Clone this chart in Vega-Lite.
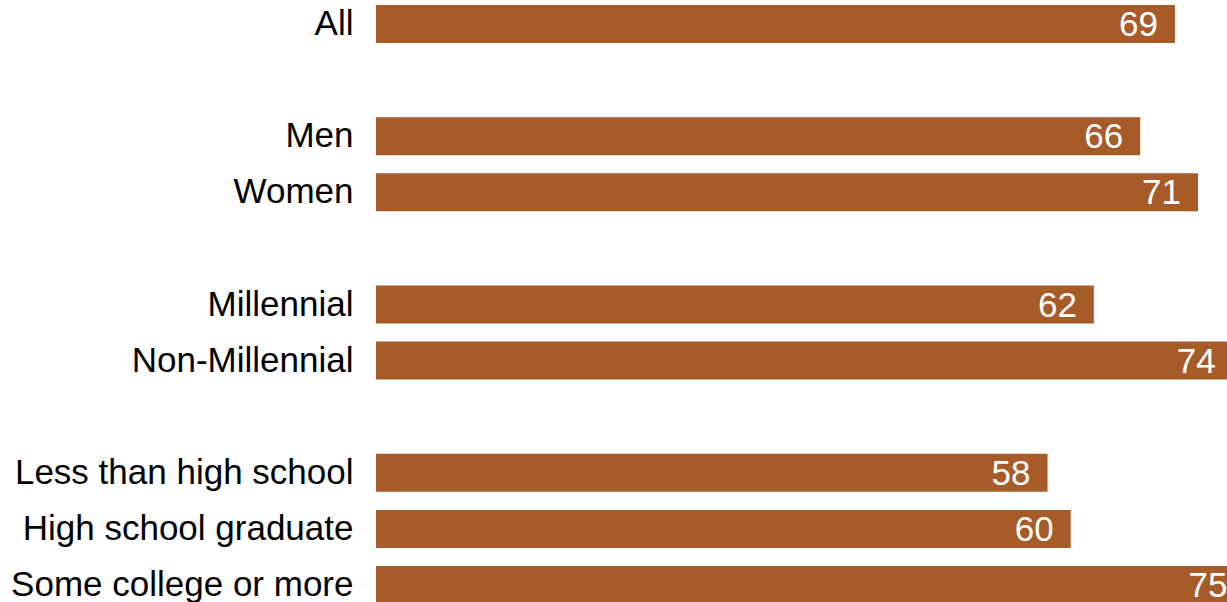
{
  "$schema": "https://vega.github.io/schema/vega-lite/v6.json",
  "autosize": "none",
  "width": 851,
  "height": 602,
  "padding": {"left": 376, "top": 0, "right": 0, "bottom": 0},
  "background": "white",
  "config": {"view": {"stroke": null}},
  "data": {"values": [
    {"group": "All", "value": 69},
    {"group": "Men", "value": 66},
    {"group": "Women", "value": 71},
    {"group": "Millennial", "value": 62},
    {"group": "Non-Millennial", "value": 74},
    {"group": "Less than high school", "value": 58},
    {"group": "High school graduate", "value": 60},
    {"group": "Some college or more", "value": 75}
  ]},
  "encoding": {
    "y": {"field": "group", "type": "nominal", "sort": null,
      "scale": {"domain": ["All", "gap1", "Men", "Women", "gap2", "Millennial", "Non-Millennial", "gap3", "Less than high school", "High school graduate", "Some college or more"],
        "range": [5, 604], "paddingInner": 0.323, "paddingOuter": 0},
      "axis": {"title": null, "ticks": false, "domain": false, "labelPadding": 23, "labelFontSize": 35, "labelFont": "Liberation Sans", "labelColor": "#000000", "labelLimit": 400,
        "labelExpr": "indexof(datum.value, 'gap') === 0 ? '' : datum.value"}},
    "x": {"field": "value", "type": "quantitative",
      "scale": {"domain": [0, 73.5], "nice": false, "zero": true},
      "axis": null}
  },
  "layer": [
    {"mark": {"type": "bar", "color": "#A65B28", "clip": false}},
    {"mark": {"type": "text", "align": "right", "baseline": "middle", "dx": -17, "dy": 1, "color": "white", "fontSize": 35, "font": "Liberation Sans"},
     "encoding": {"text": {"field": "value", "type": "quantitative"}}}
  ]
}
